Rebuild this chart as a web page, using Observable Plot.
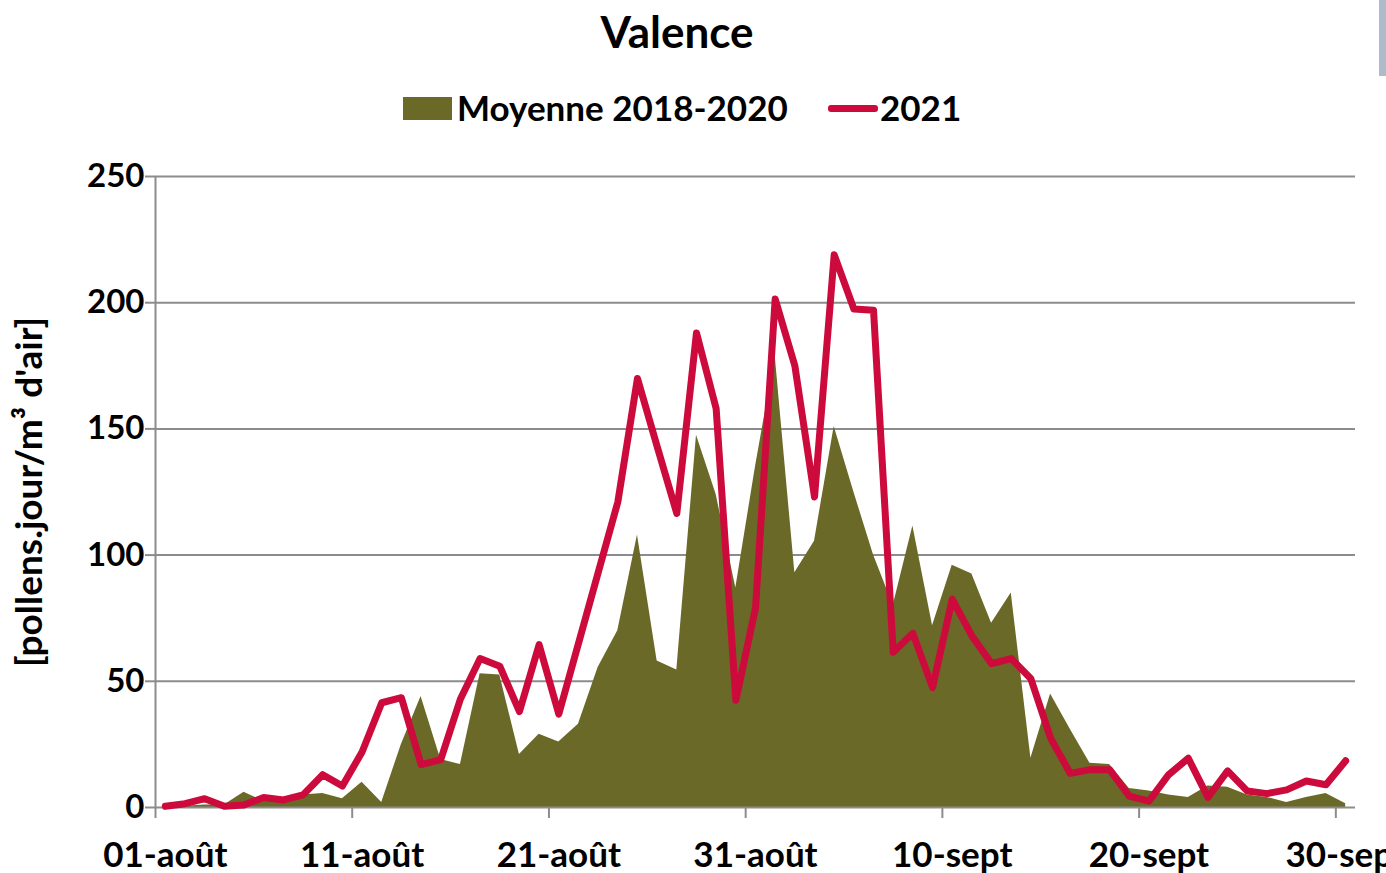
<!DOCTYPE html>
<html>
<head>
<meta charset="utf-8">
<script src="https://cdn.jsdelivr.net/npm/d3@7"></script>
<script src="https://cdn.jsdelivr.net/npm/@observablehq/plot@0.6"></script>
<style>
  html, body { margin: 0; padding: 0; background: #fff; overflow: hidden; }
  body { width: 1386px; height: 873px; font-family: Lato, "Open Sans", sans-serif; font-weight: bold; }
  #hdr { position: relative; height: 150px; width: 1386px; }
  #title { position: absolute; left: 0; width: 1354px; text-align: center; top: 9px; font-size: 44px; line-height: 44px; }
  .leg { position: absolute; }
  #sq { left: 403px; top: 97px; width: 49px; height: 23px; background: #6B6928; }
  #t1 { left: 457px; top: 90px; font-size: 35px; line-height: 35px; white-space: nowrap; }
  #ln { left: 828px; top: 105px; width: 50px; height: 7px; background: #CC0A3C; border-radius: 3px; }
  #t2 { left: 880px; top: 90px; font-size: 35px; line-height: 35px; }
  #bar { position: absolute; left: 1379px; top: 0; width: 7px; height: 76px; background: #AEBBCB; }
  #chart svg { display: block; }
</style>
</head>
<body>
<div id="hdr">
  <div id="title">Valence</div>
  <div class="leg" id="sq"></div>
  <div class="leg" id="t1">Moyenne 2018-2020</div>
  <div class="leg" id="ln"></div>
  <div class="leg" id="t2">2021</div>
  <div id="bar"></div>
</div>
<div id="chart"></div>
<script>
const seriesNames = ["Moyenne 2018-2020", "2021"];
const tickDays = [0, 10, 20, 30, 40, 50, 60];
const tickLabels = ["01-août", "11-août", "21-août", "31-août", "10-sept", "20-sept", "30-sept"];
const yTicks = [0, 50, 100, 150, 200, 250];
const yTitle = "[pollens.jour/m³ d'air]";

const moyenne = [0,0.5,1,1,6,2.5,3,5,5.5,3.5,
  10,2,25,44,19,17,53,52.5,21,29,
  26,33,55.5,70,108,58,54.5,147.5,124,87,
  135,179,93,105.5,151,125,100,80,111.5,72,
  96,92.5,73,85,19.5,45,31,17.5,17,7.5,
  6.5,5,4,8.5,8,5,4,2,4,5.5,
  1.5];
const y2021 = [0.5,1.5,3.5,0.5,1,4,3,5,13,8.5,
  22,41.5,43.5,17,19,43,59,56,38,64.5,
  37,65,93,121,170,143,116.5,188,158,42.5,
  79,201.5,175,123,219,197.5,197,61.5,69,47.5,
  82.5,68,57,59,51,27.5,13.5,15,15,4.5,
  2.5,13,19.5,4,14.5,6.5,5.5,7,10.5,9,
  18.5];

const rows = moyenne.map((v, i) => ({day: i, moy: v, v21: y2021[i]}));
const ticksTbl = tickDays.map((d, i) => ({day: d, label: tickLabels[i]}));

const gridColor = "#8C8C8C";
const chart = Plot.plot({
  width: 1386,
  height: 723,
  marginTop: 26,
  marginBottom: 66,
  marginLeft: 155,
  marginRight: 31,
  x: {domain: [0, 61], axis: null},
  y: {domain: [0, 250], axis: null},
  style: {fontFamily: "Lato, 'Open Sans', sans-serif", fontWeight: "bold", color: "#000", background: "#fff"},
  marks: [
    Plot.ruleY(yTicks.filter(t => t > 0), {stroke: gridColor, strokeWidth: 2}),
    Plot.areaY(rows, {x: d => d.day + 0.5, y: "moy", fill: "#6B6928"}),
    Plot.ruleY([0], {stroke: gridColor, strokeWidth: 2}),
    Plot.ruleX([0], {stroke: gridColor, strokeWidth: 2}),
    Plot.axisY({ticks: yTicks, tickSize: 10, tickPadding: 1, stroke: gridColor, strokeWidth: 2, strokeOpacity: 1, fontSize: 33, fontWeight: "bold", fill: "#000", tickFormat: d => String(d)}),
    Plot.axisX({ticks: tickDays, tickSize: 11, tickFormat: () => "", stroke: gridColor, strokeWidth: 2, strokeOpacity: 1}),
    Plot.text(ticksTbl, {x: d => d.day + 0.5, y: 0, text: "label", dy: 48, fontSize: 35, fontWeight: "bold", fill: "#000"}),
    Plot.line(rows, {x: d => d.day + 0.5, y: "v21", stroke: "#CC0A3C", strokeWidth: 7, strokeLinejoin: "round", strokeLinecap: "round"}),
    Plot.text([yTitle], {frameAnchor: "left", rotate: -90, dx: -125, textAnchor: "middle", fontSize: 37, fontWeight: "bold", fill: "#000"})
  ]
});
document.getElementById("chart").appendChild(chart);
</script>
</body>
</html>
